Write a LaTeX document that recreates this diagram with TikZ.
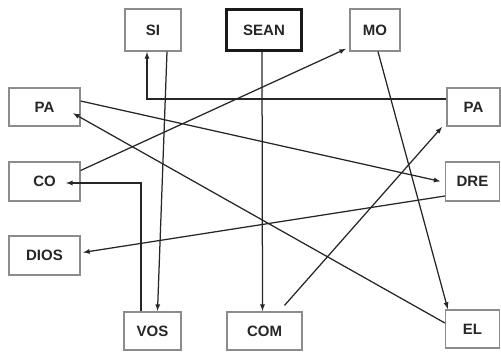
\documentclass[tikz,border=0pt]{standalone}
\usepackage{fontspec}
\setmainfont{Liberation Sans}
\usepackage{xcolor}

\begin{document}
\begin{tikzpicture}[x=1pt,y={(0pt,-1pt)},
        box/.style={draw=black!45, line width=1.2pt, rectangle, inner sep=0pt,
                    font=\fontsize{15}{15}\selectfont\bfseries, text=black!85},
        conn/.style={draw=black!85, line width=1.25pt, ->, >=latex, shorten >=0.5pt}]
                \useasboundingbox (0,0) rectangle (501,351);

                \node[box, minimum width=56pt, minimum height=42pt] (si) at (153,30) {SI};
                \node[box, draw=black!90, line width=2.6pt, minimum width=75pt, minimum height=41pt] (sean) at (264,30) {SEAN};
                \node[box, minimum width=50pt, minimum height=42pt] (mo) at (375,30) {MO};

                \node[box, minimum width=71pt, minimum height=38pt] (paL) at (44.5,107) {PA};
                \node[box, minimum width=53pt, minimum height=38pt] (paR) at (473.5,107) {PA};
                \node[box, minimum width=71pt, minimum height=39pt] (co) at (44.5,181.5) {CO};
                \node[box, minimum width=54pt, minimum height=39pt] (dre) at (472.5,181.5) {DRE};
                \node[box, minimum width=71pt, minimum height=39pt] (dios) at (44.5,255.5) {DIOS};

                \node[box, minimum width=57pt, minimum height=38pt] (vos) at (152.5,331) {VOS};
                \node[box, minimum width=75pt, minimum height=38pt] (com) at (264.5,331) {COM};
                \node[box, minimum width=54pt, minimum height=38pt] (el) at (472.5,329) {EL};

                \draw[conn] ([xshift=-2pt]sean.south) -- ([xshift=-2pt]com.north);
                \draw[conn] ([xshift=14pt]si.south) -- ([xshift=5pt]vos.north);
                \draw[conn] ([xshift=-11.5pt]vos.north) |- ([xshift=-15pt,yshift=-1.5pt]co.east);
                \draw[conn] ([yshift=8pt]paR.west) -| ([xshift=-6pt]si.south);
                \draw[conn] ([yshift=6pt]paL.east) -- ([xshift=-4pt]dre.west);
                \draw[conn] ([yshift=6pt]el.west) -- ([xshift=-8pt,yshift=-6pt]paL.east);
                \draw[conn] ([yshift=11pt]co.east) -- ([xshift=-3pt,yshift=3pt]mo.south west);
                \draw[conn] ([xshift=3pt]mo.south) -- ([xshift=3pt]el.north west);
                \draw[conn] ([xshift=20pt,yshift=6pt]com.north) -- ([xshift=-4pt]paR.south west);
                \draw[conn] ([yshift=-14.5pt]dre.west) -- ([xshift=2pt,yshift=3pt]dios.east);
            \end{tikzpicture}
\end{document}
